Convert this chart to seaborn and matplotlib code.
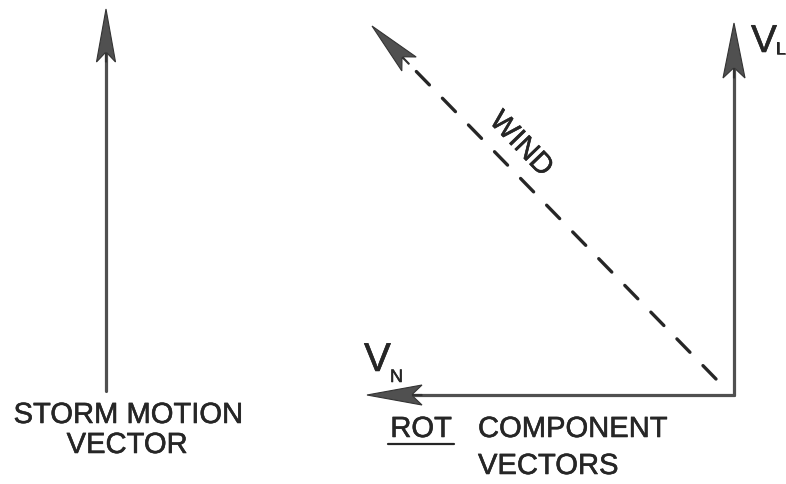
"""Storm motion vs. rotation component vectors diagram."""
import matplotlib
matplotlib.use("Agg")
import matplotlib.pyplot as plt
import matplotlib.patheffects as pe
import numpy as np
import pandas as pd
import seaborn as sns

sns.set_theme(style="white")
plt.rcParams["font.family"] = ["Liberation Sans", "DejaVu Sans"]

# vectors in figure pixel space: tail -> tip
vector_names = ["storm", "v_l", "v_n", "wind"]
tail_x = [106, 734, 734, 716]
tail_y = [392, 396, 396, 380]
tip_x = [106, 734, 367, 372]
tip_y = [10, 24, 396, 27]
head_len = [53, 55, 55, 53]
head_wid = [19, 22, 20, 20]
dashed = [False, False, False, True]

INK = "#505050"
DASH_INK = "#262626"
TEXT = "#262626"

W, H = 786, 485
fig = plt.figure(figsize=(W / 100, H / 100), dpi=100)
ax = fig.add_axes([0, 0, 1, 1])
ax.set_xlim(0, W)
ax.set_ylim(H, 0)
ax.axis("off")

for i, name in enumerate(vector_names):
    x0, y0, x1, y1 = tail_x[i], tail_y[i], tip_x[i], tip_y[i]
    d = np.hypot(x1 - x0, y1 - y0)
    ux, uy = (x1 - x0) / d, (y1 - y0) / d
    # shaft ends where the head's notch begins
    bx, by = x1 - ux * head_len[i] * 0.85, y1 - uy * head_len[i] * 0.85
    seg = pd.DataFrame({"x": [x0, bx], "y": [y0, by]})
    if dashed[i]:
        sns.lineplot(data=seg, x="x", y="y", ax=ax, color=DASH_INK,
                     estimator=None, sort=False, linewidth=2.4,
                     linestyle=(0, (5.6, 5.6)), dash_capstyle="round")
    else:
        sns.lineplot(data=seg, x="x", y="y", ax=ax, color=INK,
                     estimator=None, sort=False, linewidth=2.3)
    hx, hy = x1 - ux * head_len[i], y1 - uy * head_len[i]
    ax.arrow(hx, hy, ux * head_len[i], uy * head_len[i], width=1,
             head_width=head_wid[i], head_length=head_len[i], overhang=0.18,
             length_includes_head=True, fc=INK, ec="#333333", lw=0.8,
             zorder=3)

fs = 21
bold = [pe.withStroke(linewidth=0.4, foreground=TEXT)]
kw = dict(fontsize=fs, color=TEXT, path_effects=bold)
ax.text(128, 416, "STORM MOTION", ha="center", va="center", **kw)
ax.text(127, 446, "VECTOR", ha="center", va="center", **kw)

rot = ax.text(421, 430, "ROT", ha="center", va="center", **kw)
ax.text(478, 430, "COMPONENT", ha="left", va="center", **kw)
ax.text(478, 467, "VECTORS", ha="left", va="center", **kw)

ax.text(521, 145, "WIND", ha="center", va="center", rotation=-46,
        rotation_mode="anchor", **kw)

ax.text(364, 372, "V", ha="left", va="baseline", fontsize=29, color=TEXT,
        path_effects=bold)
ax.text(390, 383, "N", ha="left", va="baseline", fontsize=13, color=TEXT,
        path_effects=bold)
ax.text(751, 53, "V", ha="left", va="baseline", fontsize=28, color=TEXT,
        path_effects=bold)
ax.text(776, 55, "L", ha="left", va="baseline", fontsize=13, color=TEXT,
        path_effects=bold)

# underline under ROT, taken from its rendered extent
fig.canvas.draw()
bb = rot.get_window_extent().transformed(ax.transData.inverted())
ax.plot([bb.x0 - 2, bb.x1 + 2], [445, 445], color=TEXT, lw=1.6)

fig.savefig("out.png", dpi=100)
